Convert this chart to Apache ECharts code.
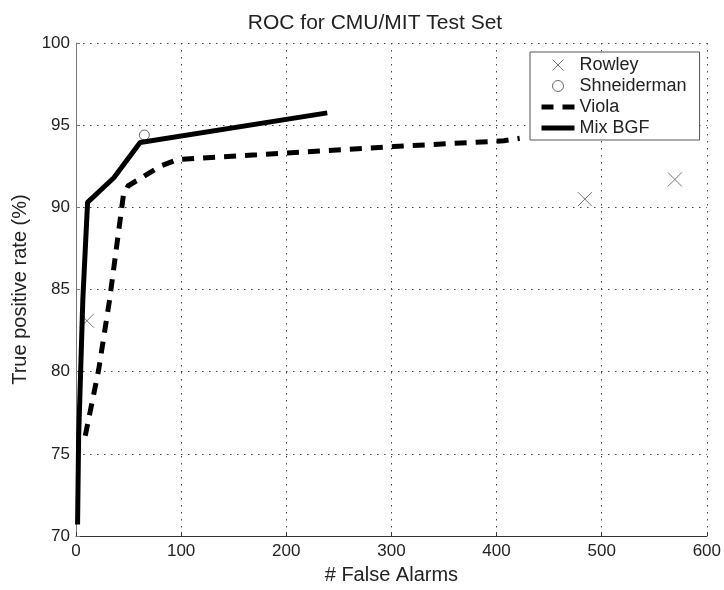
<!DOCTYPE html>
<html>
<head>
<meta charset="utf-8">
<script src="https://cdn.jsdelivr.net/npm/echarts@6/dist/echarts.min.js"></script>
<style>
  html, body { margin: 0; padding: 0; background: #fff; }
  #chart { width: 724px; height: 590px; }
</style>
</head>
<body>
<div id="chart"></div>
<script>
// values
var rowley = [[10.4, 83.1], [484, 90.5], [569.6, 91.7]];
var shneiderman = [[65, 94.4]];
var violaFA = [8.8, 21.5, 32, 45, 49.4, 80, 96, 118, 172, 302, 407, 422];
var violaTP = [76.1, 80.1, 84.4, 90.7, 91.3, 92.5, 92.9, 93.0, 93.2, 93.7, 94.05, 94.2];
var mixFA = [1.5, 2.5, 6.5, 11, 36, 61, 239];
var mixTP = [70.7, 76, 84.4, 90.3, 91.8, 93.95, 95.75];

var xTicks = [0, 100, 200, 300, 400, 500, 600];
var yTicks = [70, 75, 80, 85, 90, 95, 100];

var font = 'Liberation Sans, Arial, sans-serif';

function pairs(xs, ys) {
  return xs.map(function (x, i) { return [x, ys[i]]; });
}

var myChart = echarts.init(document.getElementById('chart'));

var opt = {
  animation: false,
  backgroundColor: '#fff',
  title: {
    text: 'ROC for CMU/MIT Test Set',
    left: 370,
    top: 8,
    textAlign: 'center',
    textStyle: { fontFamily: font, fontSize: 21, fontWeight: 'normal', color: '#222' }
  },
  grid: { left: 76, right: 17, top: 43, bottom: 49 },
  legend: {
    orient: 'vertical',
    left: 530,
    top: 52,
    padding: [4, 13, 3, 9],
    itemGap: 3,
    itemWidth: 33,
    itemHeight: 11,
    backgroundColor: '#fff',
    borderColor: '#555',
    borderWidth: 1,
    borderRadius: 0,
    selectedMode: false,
    textStyle: { fontFamily: font, fontSize: 18, color: '#222' },
    data: [
      { name: 'Rowley', itemStyle: { borderWidth: 1 } },
      { name: 'Shneiderman', itemStyle: { borderWidth: 1 } },
      // hide the dot that the line legend icon adds, keep the thick line
      { name: 'Viola', itemStyle: { opacity: 0 }, lineStyle: { width: 5 } },
      { name: 'Mix BGF', itemStyle: { opacity: 0 }, lineStyle: { width: 5 } }
    ]
  },
  xAxis: {
    type: 'value',
    min: xTicks[0],
    max: xTicks[xTicks.length - 1],
    interval: 100,
    name: '# False Alarms',
    nameLocation: 'middle',
    nameGap: 27,
    nameTextStyle: { fontFamily: font, fontSize: 20, color: '#222' },
    axisLine: { show: true, lineStyle: { color: '#333', width: 1 } },
    axisTick: { show: true, inside: true, length: 4, lineStyle: { color: '#333' } },
    axisLabel: { fontFamily: font, fontSize: 17, color: '#222', margin: 7 },
    splitLine: { show: true, lineStyle: { color: '#444', type: [1.5, 5.5], width: 1 } }
  },
  yAxis: {
    type: 'value',
    min: yTicks[0],
    max: yTicks[yTicks.length - 1],
    interval: 5,
    name: 'True positive rate (%)',
    nameLocation: 'middle',
    nameGap: 42,
    nameTextStyle: { fontFamily: font, fontSize: 20, color: '#222' },
    axisLine: { show: true, lineStyle: { color: '#777', width: 1 } },
    axisTick: { show: true, inside: true, length: 4, lineStyle: { color: '#777' } },
    axisLabel: { fontFamily: font, fontSize: 17, color: '#222', margin: 6 },
    splitLine: { show: true, lineStyle: { color: '#444', type: [1.5, 5.5], width: 1 } }
  },
  series: [
    {
      name: 'Rowley',
      type: 'scatter',
      symbol: 'path://M0,0L10,10M10,0L0,10',
      symbolSize: 14,
      itemStyle: { color: 'transparent', borderColor: '#555', borderWidth: 1 },
      emphasis: { disabled: true },
      data: rowley,
      z: 3
    },
    {
      name: 'Shneiderman',
      type: 'scatter',
      symbol: 'circle',
      symbolSize: 10,
      itemStyle: { color: '#fff', borderColor: '#444', borderWidth: 1 },
      emphasis: { disabled: true },
      data: shneiderman,
      z: 3
    },
    {
      name: 'Viola',
      type: 'line',
      symbol: 'none',
      color: '#000',
      lineStyle: { color: '#000', width: 5, type: [12, 9] },
      emphasis: { disabled: true },
      data: pairs(violaFA, violaTP),
      z: 4
    },
    {
      name: 'Mix BGF',
      type: 'line',
      symbol: 'none',
      color: '#000',
      lineStyle: { color: '#000', width: 5 },
      emphasis: { disabled: true },
      data: pairs(mixFA, mixTP),
      z: 4
    }
  ]
};

myChart.setOption(opt);
</script>
</body>
</html>
